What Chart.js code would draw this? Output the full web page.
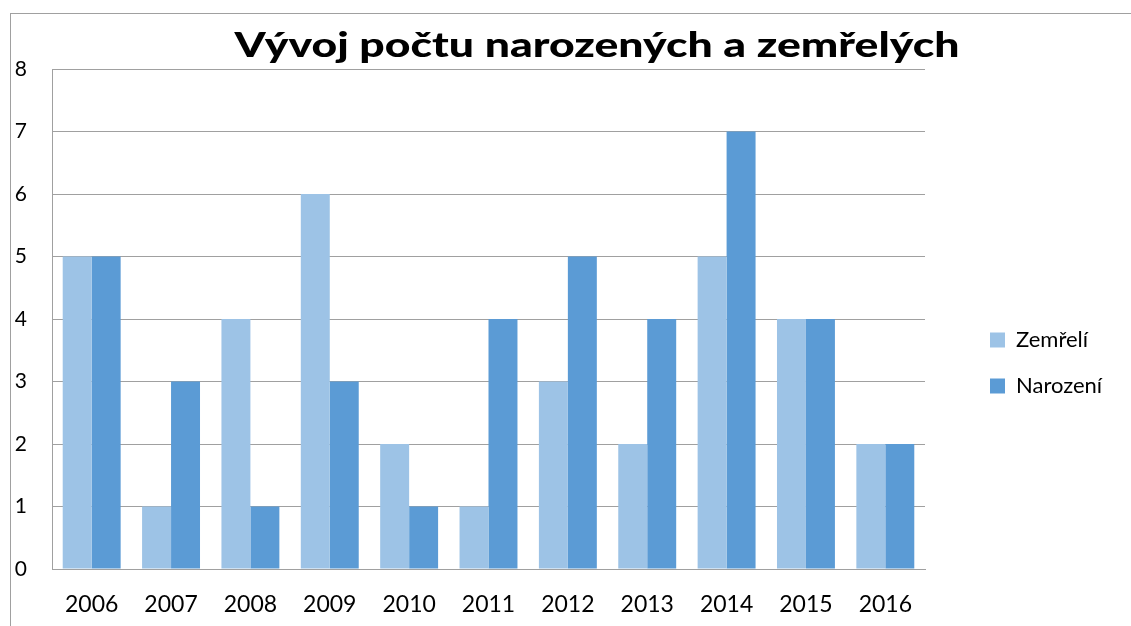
<!DOCTYPE html>
<html>
<head>
<meta charset="utf-8">
<script src="https://cdn.jsdelivr.net/npm/chart.js@4.4.0/dist/chart.umd.min.js"></script>
<style>
  html, body { margin: 0; padding: 0; background: #fff; }
  #lienzo { position: relative; width: 1131px; height: 626px; }
  #marco { position: absolute; left: 10px; top: 13px; right: 0; bottom: 0; border-top: 1px solid #a0a0a0; border-left: 1px solid #a0a0a0; }
  #grafico { position: absolute; left: 0; top: 0; }
</style>
</head>
<body>
<div id="lienzo">
  <div id="marco"></div>
  <canvas id="grafico" width="1131" height="626"></canvas>
</div>
<script>
const titulo = "Vývoj počtu narozených a zemřelých";
const roky = ["2006", "2007", "2008", "2009", "2010", "2011", "2012", "2013", "2014", "2015", "2016"];
const zemreli = [5, 1, 4, 6, 2, 1, 3, 2, 5, 4, 2];
const narozeni = [5, 3, 1, 3, 1, 4, 5, 4, 7, 4, 2];

const fuente = "Lato";
const gris = "#a0a0a0";

// ancho de la leyenda para que los cuadros queden en x=990
const medir = document.createElement("canvas").getContext("2d");
medir.font = "22px " + fuente;
const anchoTexto = Math.max(medir.measureText("Zemřelí").width, medir.measureText("Narození").width);
const anchoLeyenda = 24 + 15 + 11 + anchoTexto + 10;
const margenDerecho = Math.max(0, 1131 - 966 - anchoLeyenda);

const tituloPlugin = {
  id: "titulo",
  afterDraw(chart) {
    const ctx = chart.ctx;
    ctx.save();
    ctx.font = "900 34px " + fuente;
    const w = ctx.measureText(titulo).width;
    ctx.translate(597, 57);
    ctx.scale(725 / w, 1);
    ctx.textAlign = "center";
    ctx.textBaseline = "alphabetic";
    ctx.fillStyle = "#000";
    ctx.fillText(titulo, 0, 0);
    ctx.restore();
  }
};

const ctx = document.getElementById("grafico").getContext("2d");
new Chart(ctx, {
  type: "bar",
  data: {
    labels: roky,
    datasets: [
      { label: "Zemřelí", data: zemreli, backgroundColor: "#9dc3e6", yAxisID: "y" },
      { label: "Narození", data: narozeni, backgroundColor: "#5b9bd5", yAxisID: "y" }
    ]
  },
  options: {
    responsive: false,
    animation: false,
    layout: { padding: { top: 69, left: 0, right: margenDerecho, bottom: 0 } },
    datasets: { bar: { categoryPercentage: 0.73, barPercentage: 1.0 } },
    scales: {
      x: {
        grid: { display: false, drawTicks: false },
        border: { color: gris },
        ticks: { color: "#000", padding: 22, font: { family: fuente, size: 23 } },
        afterFit: s => { s.height = 57; }
      },
      y: {
        min: 0,
        max: 8,
        ticks: { stepSize: 1, color: "#000", padding: 25, font: { family: fuente, size: 21 } },
        grid: { color: gris, drawTicks: false },
        border: { color: gris },
        afterFit: s => { s.width = 52; }
      },
      hueco: {
        position: "right",
        grid: { display: false, drawTicks: false },
        border: { display: false },
        ticks: { display: false },
        afterFit: s => { s.width = 41; }
      }
    },
    plugins: {
      title: { display: false },
      tooltip: { enabled: false },
      legend: {
        position: "right",
        align: "center",
        title: { display: true, text: "", font: { size: 10, lineHeight: 1 }, padding: { top: 21, bottom: 0 } },
        labels: { color: "#000", boxWidth: 15, boxHeight: 15, padding: 24, font: { family: fuente, size: 22 } }
      }
    }
  },
  plugins: [tituloPlugin]
});
</script>
</body>
</html>
